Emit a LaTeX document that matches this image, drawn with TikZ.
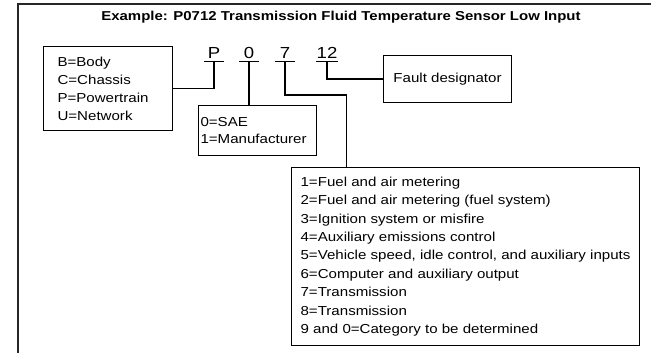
\documentclass[tikz,border=0pt]{standalone}
\usepackage{fontspec}
\setmainfont[FakeStretch=1.16]{Liberation Sans}
\usepackage{tikz}
\usetikzlibrary{positioning, calc}

\tikzset{
    codebox/.style={draw, line width=1.1pt, inner ysep=0pt, align=left,
        font=\fontsize{13}{18}\selectfont},
    digit/.style={font=\fontsize{16}{16}\selectfont, minimum width=19pt,
        inner xsep=0pt, inner ysep=2.5pt, text height=11.5pt, text depth=0pt,
        anchor=south},
    wire/.style={line width=1.1pt}
}

\begin{document}
\begin{tikzpicture}[x=1pt, y=-1pt]

    % --- CANVAS & FRAME ---
    \useasboundingbox (0,0) rectangle (651,353);
    \draw[line width=1.3pt, black!85] (18,353) -- (18,4) -- (651,4);

    % --- TITLE ---
    \node[font=\fontsize{12.9}{14}\selectfont\bfseries] (title) at (341,17)
        {Example: P0712 Transmission Fluid Temperature Sensor Low Input};

    % --- CODE CHARACTERS (underlined) ---
    \node[digit] (dP)  at (214,61.7) {P};
    \node[digit] (d0)  at (249,61.7) {0};
    \node[digit] (d7)  at (285,61.7) {7};
    \node[digit] (d12) at (327,61.7) {12};
    \foreach \d in {dP,d0,d7,d12}
        \draw[wire] (\d.south west) -- (\d.south east);

    % --- DESCRIPTION BOXES ---
    % System letter
    \node[codebox, anchor=north west, inner xsep=14pt, text width=101pt,
        minimum height=84pt] (body) at (43,46)
        {B=Body\\C=Chassis\\P=Powertrain\\U=Network};
    % Code type
    \node[codebox, anchor=north west, inner xsep=2pt, text width=114pt,
        minimum height=50pt, font=\fontsize{13}{16.6}\selectfont] (sae) at (198,105)
        {0=SAE\\1=Manufacturer};
    % Fault number
    \node[codebox, anchor=north west, align=center, inner xsep=0pt,
        minimum width=128pt, minimum height=47pt] (fault) at (383,55)
        {Fault designator};
    % Subsystem
    \node[codebox, anchor=north west, inner xsep=0pt, minimum width=348pt,
        minimum height=178pt, font=\fontsize{13}{18.4}\selectfont] (cat) at (291,167)
        {1=Fuel and air metering\\
         2=Fuel and air metering (fuel system)\\
         3=Ignition system or misfire\\
         4=Auxiliary emissions control\\
         5=Vehicle speed, idle control, and auxiliary inputs\\
         6=Computer and auxiliary output\\
         7=Transmission\\
         8=Transmission\\
         9 and 0=Category to be determined};

    % --- CONNECTORS ---
    \coordinate (bend7) at (346.5,95);
    \draw[wire] (dP.south) |- (body.east);
    \draw[wire] (d0.south) -- (d0.south |- sae.north);
    \draw[wire] (d7.south) |- (bend7) -- (bend7 |- cat.north);
    \draw[wire] (d12.south) |- (fault.west);

\end{tikzpicture}
\end{document}
